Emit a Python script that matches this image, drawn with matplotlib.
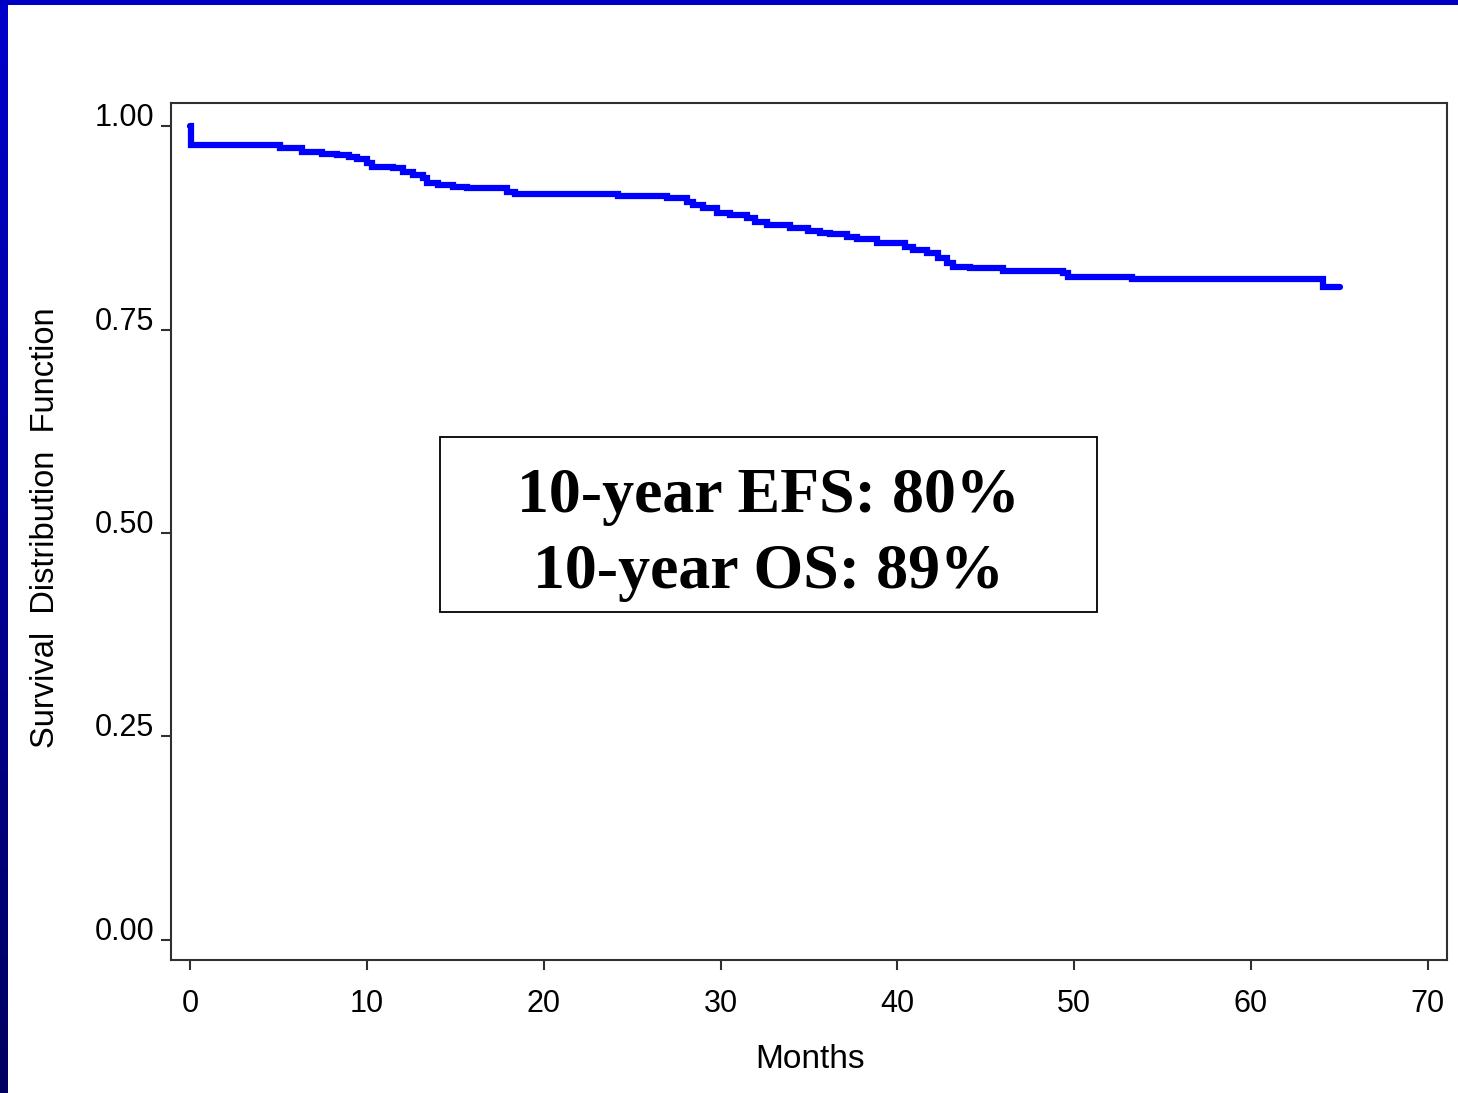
import numpy as np
import matplotlib
matplotlib.use("Agg")
import matplotlib.pyplot as plt
from matplotlib.patches import Rectangle

# ---- data ----
months = [0.0, 0.05, 5.04, 6.29, 7.42, 8.27, 9.00, 9.40, 9.97, 10.25, 11.44, 12.00,
          12.57, 13.14, 13.36, 13.99, 14.84, 15.63, 17.89, 18.35, 24.18, 26.95,
          28.09, 28.43, 28.99, 29.78, 30.52, 31.48, 31.94, 32.62, 33.92, 34.94,
          35.62, 36.18, 37.15, 37.71, 38.84, 40.43, 40.88, 41.68, 42.30, 42.81,
          43.15, 44.11, 45.98, 49.38, 49.66, 53.28, 64.10, 65.06]
survival = [1.000, 0.9767, 0.9726, 0.9684, 0.9656, 0.9640, 0.9623, 0.9595, 0.9545,
            0.9500, 0.9484, 0.9440, 0.9398, 0.9357, 0.9296, 0.9275, 0.9254, 0.9235,
            0.9193, 0.9161, 0.9140, 0.9112, 0.9070, 0.9030, 0.8989, 0.8927, 0.8907,
            0.8866, 0.8824, 0.8784, 0.8743, 0.8714, 0.8682, 0.8669, 0.8640, 0.8608,
            0.8566, 0.8517, 0.8477, 0.8443, 0.8375, 0.8313, 0.8272, 0.8252, 0.8219,
            0.8190, 0.8149, 0.8116, 0.8026, 0.8026]
x_ticks = [0, 10, 20, 30, 40, 50, 60, 70]
y_ticks = [0.00, 0.25, 0.50, 0.75, 1.00]
y_tick_labels = ["0.00", "0.25", "0.50", "0.75", "1.00"]
box_lines = ["10-year EFS: 80%", "10-year OS: 89%"]

W, H = 1458, 1093
fig = plt.figure(figsize=(W / 100, H / 100), dpi=100)
fig.patch.set_facecolor("white")

# decorative slide borders
strip = fig.add_axes([0, 0, 8 / W, 1])
grad = np.linspace(0, 1, 256).reshape(-1, 1)
cols = np.zeros((256, 1, 3))
cols[:, 0, 2] = 0.80 - 0.42 * grad[:, 0]
strip.imshow(cols, aspect="auto", extent=[0, 1, 0, 1], origin="upper")
strip.set_axis_off()
fig.add_artist(Rectangle((0, 1 - 5 / H), 1, 5 / H, transform=fig.transFigure,
                         facecolor="#0000C4", edgecolor="none"))

ax = fig.add_axes([171 / W, 1 - 960 / H, (1447 - 171) / W, (960 - 103) / H])
ax.step(months, survival, where="post", color="#0000FF", lw=4.5,
        solid_capstyle="round", solid_joinstyle="miter")

ax.set_xlim(-1.10, 71.1)
ax.set_ylim(-0.0246, 1.0283)

spine_c = "#303030"
for s in ax.spines.values():
    s.set_color(spine_c)
    s.set_linewidth(1.5)

sans = "Liberation Sans"
ax.set_xticks(x_ticks)
ax.set_xticklabels([str(v) for v in x_ticks], fontfamily=sans, fontsize=22)
ax.set_yticks(y_ticks)
ax.set_yticklabels(y_tick_labels, fontfamily=sans, fontsize=22)
ax.tick_params(axis="x", direction="out", length=7, width=1.5, color=spine_c, pad=14)
ax.tick_params(axis="y", direction="out", length=7, width=1.5, color=spine_c, pad=5)
for lab in ax.get_yticklabels():
    lab.set_verticalalignment("baseline")

fig.text(46 / W, 1 - 528 / H, "Survival  Distribution  Function", rotation=90,
         ha="center", va="center", fontfamily=sans, fontsize=23.5)
fig.text(810 / W, 1 - 1060 / H, "Months", ha="center", va="center",
         fontfamily=sans, fontsize=24)

# annotation box
ax.add_patch(Rectangle((0.2108, 0.4061), 0.7257 - 0.2108, 0.6103 - 0.4061,
                       transform=ax.transAxes, facecolor="white",
                       edgecolor="black", lw=1.3, zorder=3))
ax.text(0.468, 0.5228, box_lines[0], transform=ax.transAxes, ha="center",
        va="baseline", fontfamily="Liberation Serif", fontweight="bold",
        fontsize=46, zorder=4)
ax.text(0.468, 0.4341, box_lines[1], transform=ax.transAxes, ha="center",
        va="baseline", fontfamily="Liberation Serif", fontweight="bold",
        fontsize=46, zorder=4)

fig.savefig("out.png", dpi=100, facecolor="white")
